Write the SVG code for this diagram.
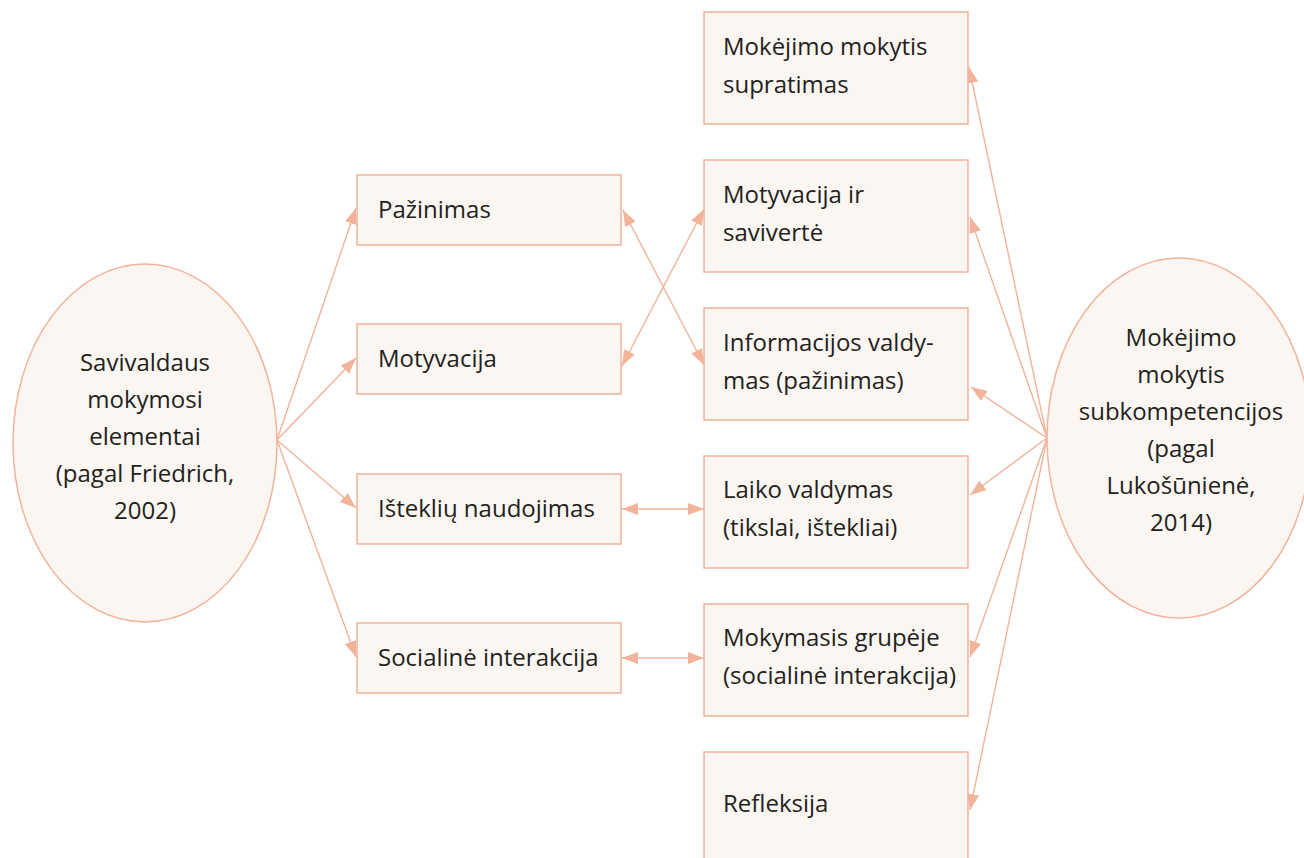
<svg xmlns="http://www.w3.org/2000/svg" width="1304" height="858" viewBox="0 0 1304 858">
  <style>
    .box { fill: #FBF6F2; stroke: #F1B39A; stroke-width: 1.5; }
    .lbl { font-family: "Open Sans", "Noto Sans", sans-serif; font-size: 24px; fill: #231F20; }
    .mid { text-anchor: middle; }
    .link { stroke: #F1B39A; stroke-width: 1.4; fill: none; }
  </style>
  <defs>
    <marker id="head" markerUnits="userSpaceOnUse" markerWidth="17" markerHeight="13" refX="16" refY="6" orient="auto-start-reverse" viewBox="0 0 17 12">
      <path d="M0,0 L16,6 L0,12 Z" fill="#F1B39A"/>
    </marker>
  </defs>

  <rect width="1304" height="858" fill="#FFFFFF"/>

  <!-- connectors -->
  <g id="connectors">
    <!-- from left ellipse -->
    <line class="link" x1="277" y1="440" x2="356" y2="208" marker-end="url(#head)"/>
    <line class="link" x1="277" y1="440" x2="356" y2="358" marker-end="url(#head)"/>
    <line class="link" x1="277" y1="440" x2="356" y2="508" marker-end="url(#head)"/>
    <line class="link" x1="277" y1="440" x2="356" y2="657" marker-end="url(#head)"/>
    <!-- between columns -->
    <line class="link" x1="623" y1="210" x2="704" y2="365" marker-start="url(#head)" marker-end="url(#head)"/>
    <line class="link" x1="622" y1="366" x2="704" y2="209" marker-start="url(#head)" marker-end="url(#head)"/>
    <line class="link" x1="622" y1="509" x2="704" y2="509" marker-start="url(#head)" marker-end="url(#head)"/>
    <line class="link" x1="622" y1="658" x2="704" y2="658" marker-start="url(#head)" marker-end="url(#head)"/>
    <!-- from right ellipse -->
    <line class="link" x1="1047" y1="438" x2="969" y2="67" marker-end="url(#head)"/>
    <line class="link" x1="1047" y1="438" x2="970" y2="217" marker-end="url(#head)"/>
    <line class="link" x1="1047" y1="438" x2="971" y2="387" marker-end="url(#head)"/>
    <line class="link" x1="1047" y1="438" x2="970" y2="495" marker-end="url(#head)"/>
    <line class="link" x1="1047" y1="438" x2="970" y2="657" marker-end="url(#head)"/>
    <line class="link" x1="1047" y1="438" x2="970" y2="810" marker-end="url(#head)"/>
  </g>

  <!-- left ellipse -->
  <g id="savivaldaus">
    <ellipse class="box" cx="145" cy="443" rx="132" ry="179"/>
    <text class="lbl mid" x="145" y="371">Savivaldaus</text>
    <text class="lbl mid" x="145" y="408">mokymosi</text>
    <text class="lbl mid" x="145" y="445">elementai</text>
    <text class="lbl mid" x="145" y="482">(pagal Friedrich,</text>
    <text class="lbl mid" x="145" y="519">2002)</text>
  </g>

  <!-- middle column -->
  <g id="pazinimas">
    <rect class="box" x="357" y="175" width="264" height="70"/>
    <text class="lbl" x="378" y="218">Pažinimas</text>
  </g>
  <g id="motyvacija">
    <rect class="box" x="357" y="324" width="264" height="70"/>
    <text class="lbl" x="378" y="367">Motyvacija</text>
  </g>
  <g id="istekliu">
    <rect class="box" x="357" y="474" width="264" height="70"/>
    <text class="lbl" x="378" y="517">Išteklių naudojimas</text>
  </g>
  <g id="socialine">
    <rect class="box" x="357" y="623" width="264" height="70"/>
    <text class="lbl" x="378" y="666">Socialinė interakcija</text>
  </g>

  <!-- right column -->
  <g id="supratimas">
    <rect class="box" x="704" y="12" width="264" height="112"/>
    <text class="lbl" x="723" y="55">Mokėjimo mokytis</text>
    <text class="lbl" x="723" y="93">supratimas</text>
  </g>
  <g id="savivertė">
    <rect class="box" x="704" y="160" width="264" height="112"/>
    <text class="lbl" x="723" y="203">Motyvacija ir</text>
    <text class="lbl" x="723" y="241">savivertė</text>
  </g>
  <g id="informacijos">
    <rect class="box" x="704" y="308" width="264" height="112"/>
    <text class="lbl" x="723" y="351">Informacijos valdy-</text>
    <text class="lbl" x="723" y="389">mas (pažinimas)</text>
  </g>
  <g id="laiko">
    <rect class="box" x="704" y="456" width="264" height="112"/>
    <text class="lbl" x="723" y="498">Laiko valdymas</text>
    <text class="lbl" x="723" y="536">(tikslai, ištekliai)</text>
  </g>
  <g id="grupeje">
    <rect class="box" x="704" y="604" width="264" height="112"/>
    <text class="lbl" x="723" y="646">Mokymasis grupėje</text>
    <text class="lbl" x="723" y="684">(socialinė interakcija)</text>
  </g>
  <g id="refleksija">
    <rect class="box" x="704" y="752" width="264" height="112"/>
    <text class="lbl" x="723" y="812">Refleksija</text>
  </g>

  <!-- right ellipse -->
  <g id="subkompetencijos">
    <ellipse class="box" cx="1179" cy="438" rx="132" ry="180"/>
    <text class="lbl mid" x="1181" y="346">Mokėjimo</text>
    <text class="lbl mid" x="1181" y="383">mokytis</text>
    <text class="lbl mid" x="1181" y="420">subkompetencijos</text>
    <text class="lbl mid" x="1181" y="457">(pagal</text>
    <text class="lbl mid" x="1181" y="494">Lukošūnienė,</text>
    <text class="lbl mid" x="1181" y="531">2014)</text>
  </g>
</svg>
